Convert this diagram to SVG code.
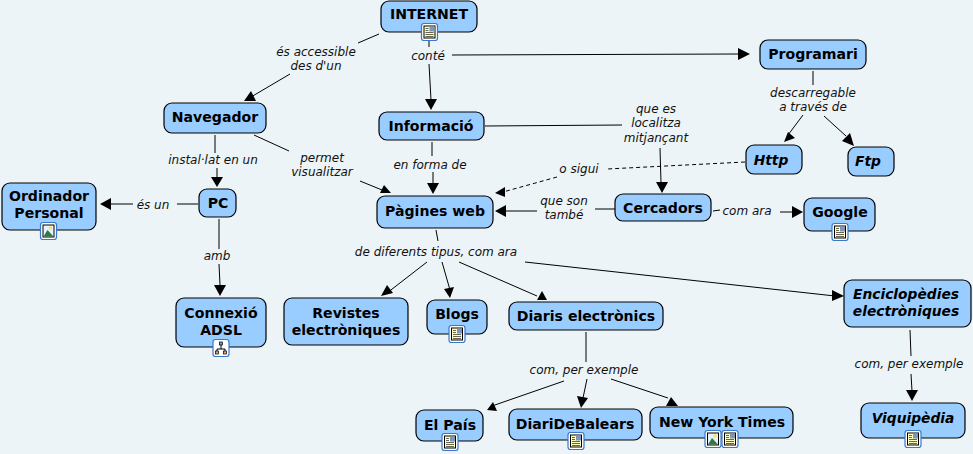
<svg xmlns="http://www.w3.org/2000/svg" width="973" height="454" viewBox="0 0 973 454">
<style>
.n{fill:#99ccff;stroke:#000;stroke-width:1.2}
.t{font-family:"DejaVu Sans",sans-serif;font-size:14.1px;font-weight:bold;fill:#000;text-anchor:middle}
.t.i{font-style:italic;font-size:13.8px}
.l{font-family:"DejaVu Sans",sans-serif;font-size:12px;font-style:italic;fill:#111;text-anchor:middle}
.c line{stroke:#000;stroke-width:1}
.c .d{stroke-dasharray:4 3}
.c polygon{fill:#000}
</style>
<defs>
<g id="doc"><rect x="-8" y="-8.500" width="16" height="17" rx="2.500" fill="#fff" stroke="#3b78c8" stroke-width="1.2"/><rect x="-5.500" y="-6" width="11" height="12" fill="#ffffc0" stroke="#000" stroke-width="1"/><path d="M-4-3.500h3M-4-1.500h3M-4 .5h8M-4 2.500h8M-4 4.500h8" stroke="#222" stroke-width=".7" fill="none"/><rect x="0" y="-5.500" width="5" height="5" fill="#7d97b8"/></g>
<g id="img"><rect x="-8" y="-8.500" width="16" height="17" rx="2.500" fill="#fff" stroke="#3b78c8" stroke-width="1.2"/><rect x="-5.500" y="-6" width="11" height="12" fill="#e4f2ff" stroke="#000" stroke-width="1"/><path d="M-5 5.500 L-1 -1 L5 5.500Z" fill="#2c7a3c"/><circle cx="2" cy="-3" r="1.800" fill="#ffe060"/></g>
<g id="map"><rect x="-8" y="-8.500" width="16" height="17" rx="2.500" fill="#fff" stroke="#3b78c8" stroke-width="1.200"/><path d="M0-3V1M-4 3V1H4V3" stroke="#000" fill="none"/><rect x="-1.500" y="-6" width="3" height="3" fill="#6f8fd8" stroke="#000" stroke-width=".7"/><rect x="-5.500" y="3" width="3" height="3" fill="#e8a060" stroke="#000" stroke-width=".7"/><rect x="2.500" y="3" width="3" height="3" fill="#e8a060" stroke="#000" stroke-width=".7"/></g>
</defs>
<rect width="973" height="454" fill="#edf4f7"/>
<g id="connectors" class="c">
<line x1="379" y1="34" x2="358" y2="43"/><line x1="290" y1="74" x2="251" y2="97"/><polygon points="244,101 256,101 251,91"/>
<line x1="429" y1="41" x2="429" y2="47"/><line x1="429" y1="64" x2="431" y2="100"/><polygon points="431,110 425,99 437,99"/>
<line x1="452" y1="55" x2="738" y2="54"/><polygon points="750,54 738,48 738,60"/>
<line x1="813" y1="71" x2="813" y2="85"/><line x1="803" y1="115" x2="788" y2="135"/><polygon points="784,142 795,138 788,132"/>
<line x1="824" y1="116" x2="846" y2="136"/><polygon points="854,146 850,133 842,141"/>
<line x1="215" y1="135" x2="215" y2="153"/><line x1="217" y1="168" x2="217" y2="178"/><polygon points="217,187 211,177 223,177"/>
<line x1="254" y1="135" x2="289" y2="151"/><line x1="360" y1="181" x2="382" y2="190"/><polygon points="380,193 391,193 384,185"/>
<line x1="485" y1="126" x2="622" y2="125"/><line x1="660" y1="148" x2="661" y2="183"/><polygon points="662,193 656,182 668,182"/>
<line x1="432" y1="142" x2="432" y2="156"/><line x1="433" y1="172" x2="433" y2="184"/><polygon points="433,194 427,183 439,183"/>
<line class="d" x1="745" y1="162" x2="607" y2="169"/><line class="d" x1="557" y1="177" x2="503" y2="192"/><polygon points="495,193 505,187 505,197"/>
<line x1="198" y1="204" x2="177" y2="204"/><line x1="133" y1="204" x2="110" y2="204"/><polygon points="100,204 111,198 111,210"/>
<line x1="219" y1="219" x2="219" y2="249"/><line x1="219" y1="264" x2="220" y2="285"/><polygon points="220,296 214,285 226,285"/>
<line x1="615" y1="209" x2="595" y2="209"/><line x1="537" y1="211" x2="502" y2="211"/><polygon points="495,211 506,205 506,217"/>
<line x1="713" y1="211" x2="720" y2="210"/><line x1="780" y1="212" x2="793" y2="212"/><polygon points="803,212 792,206 792,218"/>
<line x1="436" y1="230" x2="438" y2="241"/>
<line x1="427" y1="262" x2="387" y2="293"/><polygon points="381,296 393,293 387,285"/>
<line x1="442" y1="262" x2="450" y2="290"/><polygon points="450,298 454,287 444,289"/>
<line x1="459" y1="262" x2="537" y2="296"/><polygon points="537,300 547,300 542,291"/>
<line x1="525" y1="262" x2="835" y2="296"/><polygon points="844,296 832,290 832,301"/>
<line x1="586" y1="332" x2="586" y2="362"/>
<line x1="564" y1="381" x2="492" y2="406"/><polygon points="487,410 497,411 493,402"/>
<line x1="587" y1="379" x2="583" y2="398"/><polygon points="581,408 577,396 588,398"/>
<line x1="611" y1="379" x2="668" y2="398"/><polygon points="666,406 678,406 671,397"/>
<line x1="910" y1="330" x2="911" y2="356"/><line x1="911" y1="374" x2="912" y2="391"/><polygon points="912,401 906,390 918,390"/>
</g>
<text class="l" x="316" y="56">és accessible</text><text class="l" x="316" y="70">des d'un</text>
<text class="l" x="428" y="60">conté</text>
<text class="l" x="813" y="97">descarregable</text><text class="l" x="813" y="111">a través de</text>
<text class="l" x="213" y="164">instal·lat en un</text>
<text class="l" x="322" y="162">permet</text><text class="l" x="322" y="176">visualitzar</text>
<text class="l" x="656" y="113">que es</text><text class="l" x="656" y="127">localitza</text><text class="l" x="656" y="142">mitjançant</text>
<text class="l" x="430" y="169">en forma de</text>
<text class="l" x="579" y="173">o sigui</text>
<text class="l" x="153" y="209">és un</text>
<text class="l" x="217" y="260">amb</text>
<text class="l" x="564" y="205">que son</text><text class="l" x="564" y="219">també</text>
<text class="l" x="747" y="215">com ara</text>
<text class="l" x="436" y="256">de diferents tipus, com ara</text>
<text class="l" x="584" y="374">com, per exemple</text>
<text class="l" x="909" y="368">com, per exemple</text>
<g id="internet"><rect class="n" x="381" y="1" width="96" height="31" rx="8"/><text class="t" x="429" y="19">INTERNET</text><use href="#doc" x="429.500" y="32"/></g>
<g id="programari"><rect class="n" x="760" y="40" width="106" height="29" rx="8"/><text class="t" x="813" y="59">Programari</text></g>
<g id="navegador"><rect class="n" x="164" y="103" width="102" height="30" rx="8"/><text class="t" x="215" y="122">Navegador</text></g>
<g id="informacio"><rect class="n" x="379" y="112" width="105" height="28" rx="8"/><text class="t" x="431" y="131">Informació</text></g>
<g id="http"><rect class="n" x="746" y="145" width="56" height="29" rx="8"/><text class="t i" x="771" y="165">Http</text></g>
<g id="ftp"><rect class="n" x="848" y="147" width="46" height="29" rx="8"/><text class="t i" x="868" y="166">Ftp</text></g>
<g id="ordinador"><rect class="n" x="2" y="183" width="94" height="47" rx="8"/><text class="t" x="49" y="201">Ordinador</text><text class="t" x="49" y="218">Personal</text><use href="#img" x="48.500" y="231"/></g>
<g id="pc"><rect class="n" x="199" y="189" width="37" height="28" rx="8"/><text class="t" x="218" y="208">PC</text></g>
<g id="pagines"><rect class="n" x="377" y="196" width="116" height="32" rx="8"/><text class="t" x="435" y="216">Pàgines web</text></g>
<g id="cercadors"><rect class="n" x="615" y="194" width="96" height="27" rx="8"/><text class="t" x="663" y="213">Cercadors</text></g>
<g id="google"><rect class="n" x="804" y="198" width="71" height="33" rx="8"/><text class="t" x="840" y="217">Google</text><use href="#doc" x="840" y="232"/></g>
<g id="revistes"><rect class="n" x="284" y="298" width="124" height="47" rx="8"/><text class="t" x="346" y="318">Revistes</text><text class="t" x="346" y="335">electròniques</text></g>
<g id="blogs"><rect class="n" x="427" y="300" width="60" height="34" rx="8"/><text class="t" x="457" y="319">Blogs</text><use href="#doc" x="457" y="334"/></g>
<g id="diaris"><rect class="n" x="509" y="302" width="154" height="28" rx="8"/><text class="t" x="586" y="321">Diaris electrònics</text></g>
<g id="enciclopedies"><rect class="n" x="844" y="280" width="127" height="47" rx="8"/><text class="t i" x="906" y="299">Enciclopèdies</text><text class="t i" x="906" y="316">electròniques</text></g>
<g id="connexio"><rect class="n" x="176" y="298" width="90" height="49" rx="8"/><text class="t" x="221" y="318">Connexió</text><text class="t" x="221" y="335">ADSL</text><use href="#map" x="221" y="348"/></g>
<g id="elpais"><rect class="n" x="416" y="410" width="67" height="31" rx="8"/><text class="t" x="450" y="430">El País</text><use href="#doc" x="450" y="442"/></g>
<g id="diaridebalears"><rect class="n" x="509" y="409" width="133" height="31" rx="8"/><text class="t" x="575" y="429">DiariDeBalears</text><use href="#doc" x="576" y="441"/></g>
<g id="nyt"><rect class="n" x="650" y="407" width="143" height="31" rx="8"/><text class="t" x="722" y="427">New York Times</text><use href="#img" x="713" y="439"/><use href="#doc" x="730" y="439"/></g>
<g id="viquipedia"><rect class="n" x="861" y="403" width="104" height="35" rx="8"/><text class="t i" x="913" y="423">Viquipèdia</text><use href="#doc" x="913" y="439"/></g>
</svg>
